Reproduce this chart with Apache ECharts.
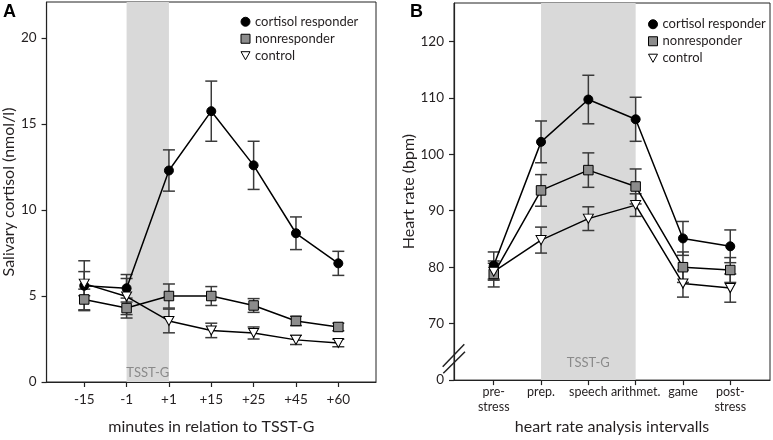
<!DOCTYPE html>
<html><head><meta charset="utf-8">
<script src="https://cdn.jsdelivr.net/npm/echarts@6/dist/echarts.min.js"></script>
<style>html,body{margin:0;padding:0;background:#fff}#c{width:773px;height:440px}</style>
</head><body><div id="c"></div>
<script>
// ---- Data ----
const catsA = ['-15', '-1', '+1', '+15', '+25', '+45', '+60'];
const respA = [5.6, 5.45, 12.3, 15.75, 12.6, 8.65, 6.9];
const respAErr = [1.45, 0.8, 1.2, 1.75, 1.4, 0.95, 0.7];
const nonA = [4.8, 4.3, 5.0, 5.0, 4.45, 3.55, 3.2];
const nonAErr = [0.6, 0.58, 0.7, 0.55, 0.4, 0.27, 0.22];
const ctrlA = [5.72, 4.97, 3.55, 3.0, 2.85, 2.45, 2.27];
const ctrlAErr = [0.7, 1.05, 0.69, 0.42, 0.35, 0.27, 0.22];

const catsB = ['pre-\nstress', 'prep.', 'speech', 'arithmet.', 'game', 'post-\nstress'];
const respB = [80.3, 102.2, 109.7, 106.2, 85.1, 83.7];
const respBErr = [2.4, 3.7, 4.3, 3.9, 3.0, 2.9];
const nonB = [78.8, 93.6, 97.2, 94.3, 80.0, 79.5];
const nonBErr = [2.3, 2.8, 3.05, 3.1, 2.7, 2.2];
const ctrlB = [79.2, 84.8, 88.6, 91.0, 77.1, 76.3];
const ctrlBErr = [1.5, 2.3, 2.1, 2.0, 2.4, 2.5];

const yTicksA = [0, 5, 10, 15, 20];
const yTicksB = [60, 70, 80, 90, 100, 110, 120];
const names = ['cortisol responder', 'nonresponder', 'control'];

// ---- Styling ----
const FONT = 'Lato';
const TXT = '#231f20';
const triDown = 'path://M0,0 L10,0 L5,9 Z';
const sym = [
  {symbol: 'circle', size: 9, color: '#000', border: '#000'},
  {symbol: 'rect', size: 9.5, color: '#8c8c8c', border: '#000'},
  {symbol: triDown, size: [10, 9], color: '#fff', border: '#000'}
];

function pts(vals){ return vals.map((v,i)=>[i+1, v]); }
function errs(vals, e){ return vals.map((v,i)=>[i+1, v-e[i], v+e[i]]); }

function renderErr(params, api){
  const x = api.value(0), lo = api.value(1), hi = api.value(2);
  const a = api.coord([x, hi]), b = api.coord([x, lo]);
  const w = 6;
  const st = {stroke: '#3a3a3a', lineWidth: 1.5};
  return {type: 'group', children: [
    {type: 'line', shape: {x1: a[0], y1: a[1], x2: b[0], y2: b[1]}, style: st},
    {type: 'line', shape: {x1: a[0]-w, y1: a[1], x2: a[0]+w, y2: a[1]}, style: st},
    {type: 'line', shape: {x1: b[0]-w, y1: b[1], x2: b[0]+w, y2: b[1]}, style: st}
  ]};
}

function lineSeries(name, k, idx, vals){
  return {type: 'line', name: name, xAxisIndex: idx, yAxisIndex: idx, data: pts(vals),
    symbol: sym[k].symbol, symbolSize: sym[k].size, z: 4,
    lineStyle: {color: '#000', width: 1.5},
    itemStyle: {color: sym[k].color, borderColor: sym[k].border, borderWidth: 1, opacity: 1},
    emphasis: {disabled: true}, animation: false};
}
function errSeries(idx, vals, e){
  return {type: 'custom', xAxisIndex: idx, yAxisIndex: idx, data: errs(vals, e),
    renderItem: renderErr, z: 3, silent: true, animation: false};
}
function shadeSeries(idx, from, to, dist){
  return {type: 'line', xAxisIndex: idx, yAxisIndex: idx, data: [], z: 1, silent: true,
    markArea: {silent: true, itemStyle: {color: '#d9d9d9'},
      label: {show: true, position: 'insideBottom', distance: dist, color: '#8a8a8a',
        fontFamily: FONT, fontSize: 13},
      data: [[{xAxis: from, name: 'TSST-G'}, {xAxis: to}]]}};
}

const chart = echarts.init(document.getElementById('c'), null, {renderer: 'canvas'});
const axisLineStyle = {color: '#222', width: 1.2};

function xAxis(idx, cats, min, max, name, margin, fs){
  const vals = cats.map((c,i)=>i+1);
  return {type: 'value', gridIndex: idx, min: min, max: max,
    name: name, nameLocation: 'middle', nameGap: 37,
    nameTextStyle: {fontFamily: FONT, fontSize: 16, color: TXT},
    axisLine: {show: true, lineStyle: axisLineStyle},
    axisTick: {show: true, length: 5, customValues: vals, lineStyle: axisLineStyle},
    axisLabel: {customValues: vals, margin: margin, fontFamily: FONT, fontSize: fs, color: TXT,
      lineHeight: 15, hideOverlap: false, formatter: v => cats[Math.round(v)-1] || ''},
    splitLine: {show: false}};
}
function yAxis(idx, min, max, ticks, name, gap, fmt){
  return {type: 'value', gridIndex: idx, min: min, max: max,
    name: name, nameLocation: 'middle', nameGap: gap,
    nameTextStyle: {fontFamily: FONT, fontSize: 16, color: TXT},
    axisLine: {show: true, lineStyle: axisLineStyle},
    axisTick: {show: true, length: 5, customValues: ticks, lineStyle: axisLineStyle},
    axisLabel: {customValues: ticks, margin: 10, fontFamily: FONT, fontSize: 13.5, color: TXT,
      formatter: fmt},
    splitLine: {show: false}};
}

const legendCommon = {orient: 'vertical', itemWidth: 9, itemHeight: 9, itemGap: 0.5, padding: 0,
  textStyle: {fontFamily: FONT, fontSize: 13, color: TXT, lineHeight: 16.5},
  selectedMode: false,
  data: names.map((n,k)=>({name: n, icon: sym[k].symbol,
    itemStyle: {color: sym[k].color, borderColor: '#000', borderWidth: 1}}))};

const option = {
  animation: false,
  backgroundColor: '#fff',
  grid: [
    {left: 45, top: 2, width: 331, height: 382.3, show: true, borderColor: '#222', borderWidth: 1},
    {left: 454, top: 3, width: 316, height: 381.3, show: true, borderColor: '#222', borderWidth: 1}
  ],
  legend: [
    Object.assign({left: 240.5, top: 13.5}, legendCommon),
    Object.assign({left: 648, top: 16}, legendCommon)
  ],
  xAxis: [
    xAxis(0, catsA, 0.11, 7.89, 'minutes in relation to TSST-G', 10, 13.5),
    xAxis(1, catsB, 0.16, 6.84, 'heart rate analysis intervalls', 4, 12.5)
  ],
  yAxis: [
    yAxis(0, 0, 22.1, yTicksA, 'Salivary cortisol (nmol/l)', 27, v => String(v)),
    yAxis(1, 60, 126.8, yTicksB, 'Heart rate (bpm)', 35, v => v === 60 ? '0' : String(v))
  ],
  series: [
    shadeSeries(0, 2, 3, 3),
    shadeSeries(1, 2, 4, 11),
    errSeries(0, respA, respAErr), errSeries(0, nonA, nonAErr), errSeries(0, ctrlA, ctrlAErr),
    errSeries(1, respB, respBErr), errSeries(1, nonB, nonBErr), errSeries(1, ctrlB, ctrlBErr),
    lineSeries(names[0], 0, 0, respA), lineSeries(names[1], 1, 0, nonA), lineSeries(names[2], 2, 0, ctrlA),
    lineSeries(names[0], 0, 1, respB), lineSeries(names[1], 1, 1, nonB), lineSeries(names[2], 2, 1, ctrlB)
  ],
  graphic: [
    {type: 'text', left: 3, top: 3, style: {text: 'A', fontFamily: 'Liberation Sans', fontWeight: 'bold', fontSize: 18, fill: '#000'}},
    {type: 'text', left: 410, top: 3, style: {text: 'B', fontFamily: 'Liberation Sans', fontWeight: 'bold', fontSize: 18, fill: '#000'}},
    {type: 'line', shape: {x1: 442.7, y1: 366.7, x2: 464.3, y2: 344.3}, style: {stroke: '#222', lineWidth: 1.5}, z: 10},
    {type: 'line', shape: {x1: 443.3, y1: 373.3, x2: 465, y2: 351.7}, style: {stroke: '#222', lineWidth: 1.5}, z: 10}
  ]
};
chart.setOption(option);
</script></body></html>
